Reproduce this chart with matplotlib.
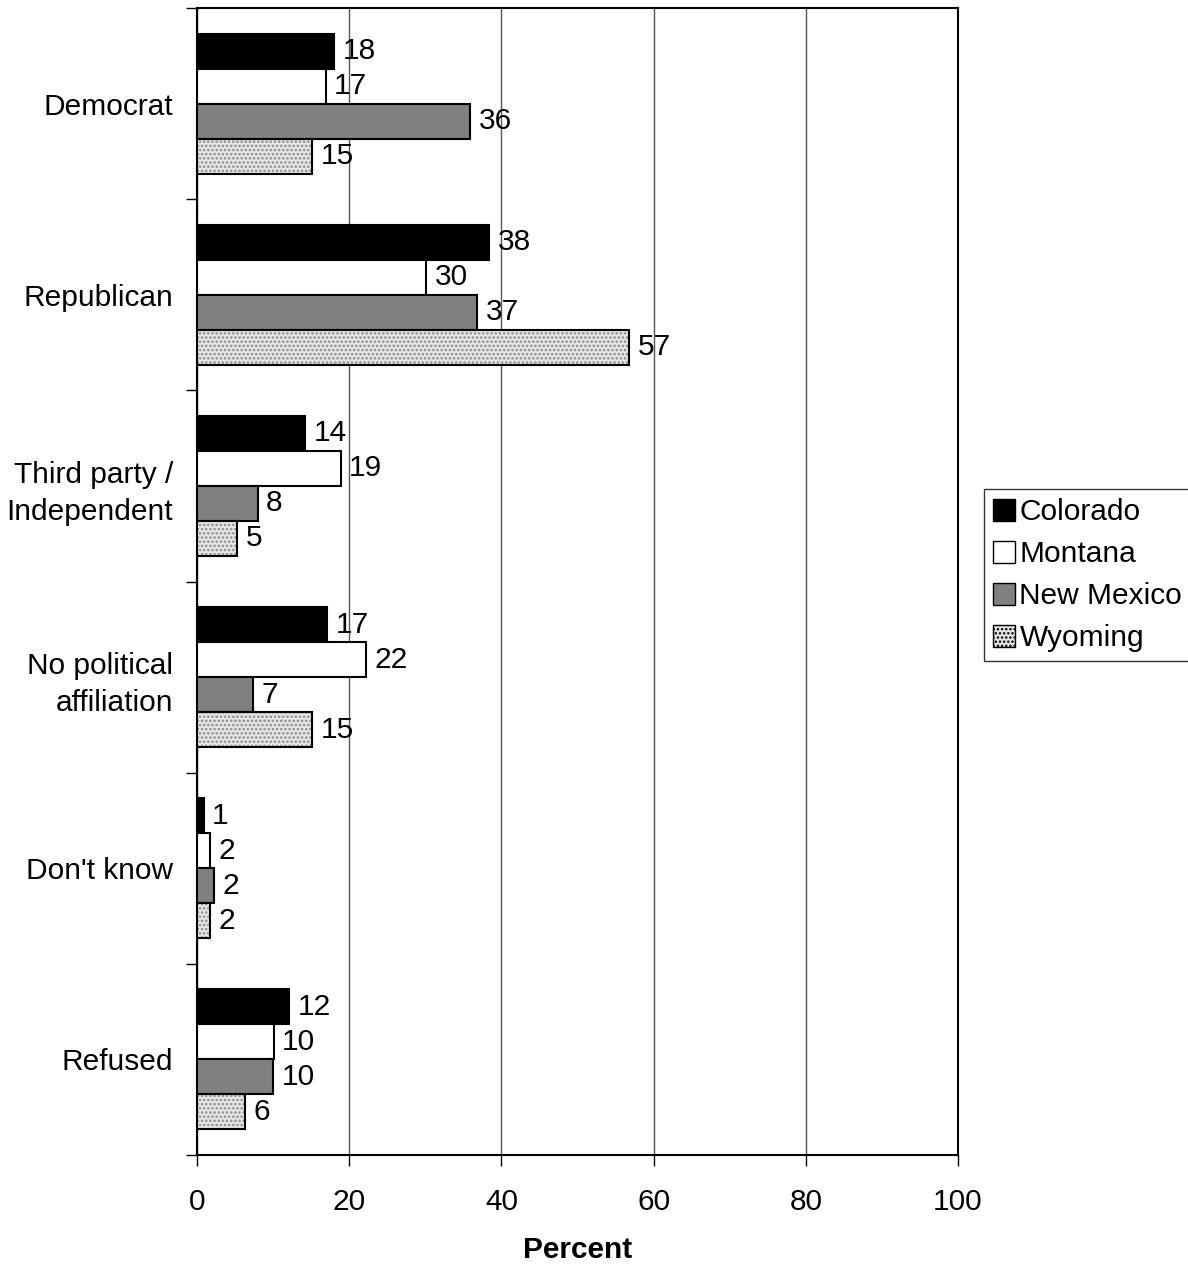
import numpy as np
import matplotlib
matplotlib.use("Agg")
from matplotlib import pyplot as plt
from matplotlib.patches import Patch

plt.rcParams["font.family"] = ["Liberation Sans", "DejaVu Sans"]
plt.rcParams["hatch.linewidth"] = 1.2

categories = ["Democrat", "Republican", "Third party /\nIndependent",
              "No political\naffiliation", "Don't know", "Refused"]
states = ["Colorado", "Montana", "New Mexico", "Wyoming"]

# bar lengths, labels as printed
colorado = [18.0, 38.4, 14.2, 17.1, 0.9, 12.1]
montana = [16.9, 30.1, 18.9, 22.2, 1.7, 10.1]
new_mexico = [35.9, 36.8, 8.0, 7.4, 2.2, 10.0]
wyoming = [15.1, 56.8, 5.3, 15.1, 1.7, 6.3]

colorado_lbl = [18, 38, 14, 17, 1, 12]
montana_lbl = [17, 30, 19, 22, 2, 10]
new_mexico_lbl = [36, 37, 8, 7, 2, 10]
wyoming_lbl = [15, 57, 5, 15, 2, 6]

series = [colorado, montana, new_mexico, wyoming]
labels = [colorado_lbl, montana_lbl, new_mexico_lbl, wyoming_lbl]
faces = ["black", "white", "#808080", "#e6e6e6"]
hatches = [None, None, None, "...."]

FS = 21.5

fig = plt.figure(figsize=(11.88, 12.64), dpi=100)
ax = fig.add_axes([0.1658, 0.0862, 0.6406, 0.9075])

n = len(categories)
h = 0.183
centers = np.arange(n)
for j in range(4):
    ypos = centers - 1.5 * h + j * h
    bars = ax.barh(ypos, series[j], height=h, color=faces[j], edgecolor="black",
                   linewidth=1.5, hatch=hatches[j], zorder=3, label=states[j])
    if hatches[j]:
        for b in bars:
            b._hatch_color = matplotlib.colors.to_rgba("#8a8a8a")
    for y, v, t in zip(ypos, series[j], labels[j]):
        ax.text(v + 1.1, y, str(t), va="center", ha="left", fontsize=FS, zorder=4)

ax.set_xlim(0, 100)
ax.set_ylim(n - 0.5, -0.5)
ax.set_xticks([0, 20, 40, 60, 80, 100])
ax.tick_params(axis="x", labelsize=FS, length=8, width=1, pad=16, direction="out")
ax.set_yticks(centers)
ax.set_yticklabels(categories, fontsize=FS, linespacing=1.4)
ax.tick_params(axis="y", length=0, pad=17)
ax.set_yticks(np.arange(n + 1) - 0.5, minor=True)
ax.tick_params(axis="y", which="minor", length=8, width=1)
for lab in ax.get_yticklabels():
    lab.set_horizontalalignment("right")
ax.xaxis.grid(True, color="#555555", linewidth=1, zorder=0)
ax.set_axisbelow(True)
for s in ax.spines.values():
    s.set_linewidth(1.5)
ax.set_xlabel("Percent", fontsize=FS, fontweight="bold", labelpad=14)

handles = [Patch(facecolor=faces[j], edgecolor="black", hatch=hatches[j], label=states[j])
           for j in range(4)]
leg = fig.legend(handles=handles, loc="upper left", bbox_to_anchor=(0.828, 0.613),
                 fontsize=FS, frameon=True, fancybox=False, edgecolor="black",
                 handlelength=0.75, handleheight=0.75, handletextpad=0.15,
                 labelspacing=0.47, borderpad=0.3, borderaxespad=0)
leg.get_frame().set_linewidth(1)

fig.savefig("out.png", dpi=100)
